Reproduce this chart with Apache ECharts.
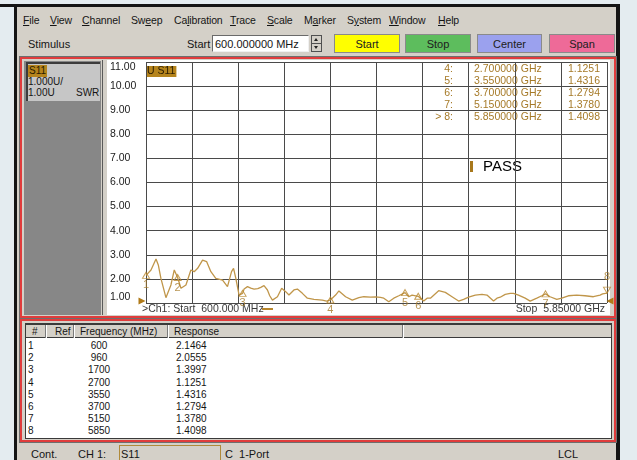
<!DOCTYPE html>
<html><head><meta charset="utf-8">
<script src="https://cdn.jsdelivr.net/npm/echarts@6/dist/echarts.min.js"></script>
<style>
*{box-sizing:border-box}
body{margin:0;width:637px;height:460px;overflow:hidden;background:#e4ecf0;font-family:'Liberation Sans',Arial,sans-serif;position:relative}
.a{position:absolute}
.t{position:absolute;font-size:11px;color:#151515;white-space:nowrap;line-height:12px}
.u{text-decoration:underline}
.btn{position:absolute;top:34px;height:19px;font-size:11px;line-height:19px;text-align:center;color:#202020;border:1px solid #8a8a8a}
.sep{position:absolute;top:325px;width:2px;height:13px;border-left:1px solid #7a7a7a;border-right:1px solid #fff}
</style></head><body>
<div class="a" style="left:0;top:4px;width:620px;height:3px;background:#141414"></div>
<div class="a" style="left:14px;top:4px;width:3px;height:456px;background:#141414"></div>
<div class="a" style="left:616px;top:4px;width:4px;height:456px;background:#141414"></div>
<div class="a" style="left:17px;top:7px;width:599px;height:453px;background:#d4d0c8"></div>

<div id="menu"></div>

<div class="t" style="left:28px;top:38px">Stimulus</div>
<div class="t" style="left:187px;top:38px">Start</div>
<div class="a" style="left:212px;top:35px;width:97px;height:17px;background:#fff;border:1px solid;border-color:#6a6a6a #f0f0f0 #f0f0f0 #6a6a6a"></div>
<div class="t" id="startBox" style="left:215px;top:38px"></div>
<div class="a" style="left:311px;top:35px;width:11px;height:17px;background:#d4d0c8;border:1px solid #505050"></div>
<div class="a" style="left:312px;top:43px;width:9px;height:1px;background:#505050"></div>
<div class="a" style="left:314px;top:38px;width:0;height:0;border-left:2.5px solid transparent;border-right:2.5px solid transparent;border-bottom:3px solid #222"></div>
<div class="a" style="left:314px;top:46px;width:0;height:0;border-left:2.5px solid transparent;border-right:2.5px solid transparent;border-top:3px solid #222"></div>
<div class="btn" style="left:334px;width:66px;background:#ffff00">Start</div>
<div class="btn" style="left:405px;width:66px;background:#5dbd5d">Stop</div>
<div class="btn" style="left:477px;width:65px;background:#9ba1ee">Center</div>
<div class="btn" style="left:549px;width:66px;background:#ee6a98">Span</div>

<!-- chart panel -->
<div class="a" style="left:19px;top:56px;width:598px;height:263px;border:1px solid #6e6e6e"></div>
<div class="a" style="left:20px;top:57px;width:596px;height:261px;border:2px solid #e03c3c"></div>
<div class="a" style="left:24px;top:61px;width:77px;height:254px;background:#878787"></div>
<div class="a" style="left:26px;top:62px;width:74px;height:39px;background:#c6c6c6;border-left:2px solid #3c3c3c;border-top:2px solid #3c3c3c"></div>
<div class="t" style="left:28px;top:65px;font-size:10px;background:#b5841c;color:#2a1c00;padding:0 1px">S11</div>
<div class="t" style="left:28px;top:76px;font-size:10px">1.000U/</div>
<div class="t" style="left:28px;top:87px;font-size:10px">1.00U</div>
<div class="t" style="left:76px;top:87px;font-size:10px">SWR</div>
<div class="a" style="left:101px;top:60px;width:6px;height:255px;background:#d4d0c8"></div>
<div class="a" style="left:102px;top:60px;width:1px;height:255px;background:#5a5a5a"></div>
<div class="a" style="left:107px;top:60px;width:503px;height:255px;background:#fff"></div>
<div id="chart" class="a" style="left:107px;top:60px;width:507px;height:256px"></div>

<!-- table panel -->
<div class="a" style="left:19px;top:318px;width:598px;height:125px;border:1px solid #6e6e6e"></div>
<div class="a" style="left:20px;top:319px;width:596px;height:123px;border:2px solid #e03c3c"></div>
<div class="a" style="left:25px;top:323px;width:587px;height:116px;background:#fff;border:1px solid #3a3a3a"></div>
<div class="a" style="left:26px;top:324px;width:585px;height:14px;background:#d4d0c8;border-bottom:1px solid #3a3a3a;border-top:1px solid #3a3a3a"></div>
<div id="table"></div>

<!-- status bar -->
<div class="t" style="left:31px;top:448px">Cont.</div>
<div class="t" style="left:78px;top:448px">CH 1:</div>
<div class="a" style="left:119px;top:445px;width:102px;height:16px;border:1px solid #b08a3a"></div>
<div class="t" style="left:121px;top:448px">S11</div>
<div class="t" style="left:225px;top:448px">C&nbsp; 1-Port</div>
<div class="t" style="left:558px;top:448px">LCL</div>

<script>
// ---------- data ----------
const menuItems = ['File','View','Channel','Sweep','Calibration','Trace','Scale','Marker','System','Window','Help'];
const menuUnderline = [0,0,0,2,2,0,0,1,1,0,0];
const menuX = [23,50,82,131,174,230,267,304,347,389,438];

const startMHz = 600;
const stopMHz = 5850;
const refValue = 1;
const scalePerDiv = 1;
const divisions = 10;

const freqMHz = [600,657,714,740,770,827,884,922,960,998,1055,1111,1149,1188,1244,1260,1290,1339,1395,1472,1528,1574,1597,1623,1660,1700,
 1717,1756,1793,1831,1873,1907,1944,1983,2009,2040,2097,2145,2191,2228,2285,2324,2381,2438,2513,2608,2657,2700,
 2759,2797,2873,2949,3024,3081,3157,3214,3270,3308,3365,3422,3479,3550,3592,3630,3700,3763,3801,3839,3933,4009,4085,
 4160,4217,4274,4350,4426,4483,4558,4597,4634,4691,4748,4785,4842,4918,4975,5051,5108,5150,5202,5278,5335,5410,
 5505,5600,5695,5771,5800,5850];
const swr = [2.1464,2.37,2.83,2.58,2.02,1.22,1.75,2.37,2.0555,1.61,1.75,2.37,2.30,2.44,2.78,2.82,2.72,2.30,2.02,1.95,1.68,2.30,2.44,2.02,1.33,1.3997,
 1.58,1.68,1.62,1.58,1.60,1.65,1.72,1.54,1.30,1.12,1.26,1.61,1.47,1.33,1.54,1.58,1.40,1.20,1.15,1.12,1.08,1.1251,
 1.33,1.50,1.26,1.12,1.22,1.26,1.24,1.25,1.23,1.20,1.05,1.20,1.30,1.4316,1.26,1.33,1.2794,1.08,1.20,1.20,1.51,1.44,1.26,
 1.08,1.15,1.24,1.33,1.36,1.33,1.08,1.20,1.24,1.36,1.40,1.40,1.33,1.20,1.08,1.20,1.30,1.3780,1.26,1.15,1.20,1.30,
 1.33,1.30,1.26,1.33,1.38,1.4098];

const markerNo = [1,2,3,4,5,6,7,8];
const markerFreqMHz = [600,960,1700,2700,3550,3700,5150,5850];
const markerResp = [2.1464,2.0555,1.3997,1.1251,1.4316,1.2794,1.3780,1.4098];
const activeMarker = 8;
const readoutFirst = 4;

const tableHeaders = ['#','Ref','Frequency (MHz)','Response'];

// ---------- chrome ----------
const menu = document.getElementById('menu');
menuItems.forEach((m,i)=>{
  const d = document.createElement('div');
  d.className='t';
  d.style.left = menuX[i]+'px'; d.style.top='14px'; d.style.fontSize='10.5px'; d.style.letterSpacing='-0.15px';
  const k = menuUnderline[i];
  d.innerHTML = m.slice(0,k)+'<span class="u">'+m[k]+'</span>'+m.slice(k+1);
  menu.appendChild(d);
});
document.getElementById('startBox').textContent = startMHz.toFixed(6)+' MHz';

const tb = document.getElementById('table');
let html = '';
[45,73,167,402].forEach(x=>{ html += '<div class="sep" style="left:'+x+'px"></div>'; });
const hx = [32,55,80,174];
tableHeaders.forEach((h,i)=>{ html += '<div class="t" style="left:'+hx[i]+'px;top:326px;font-size:10px">'+h+'</div>'; });
markerNo.forEach((n,i)=>{
  const y = 340 + i*12.2;
  html += '<div class="t" style="left:28px;top:'+y+'px;font-size:10px">'+n+'</div>';
  html += '<div class="t" style="left:69px;width:60px;text-align:center;top:'+y+'px;font-size:10px">'+markerFreqMHz[i]+'</div>';
  html += '<div class="t" style="left:176px;top:'+y+'px;font-size:10px">'+markerResp[i].toFixed(4)+'</div>';
});
tb.innerHTML = html;

// ---------- chart ----------
const gold = '#b8872e';
const textGold = '#a67a28';
const chart = echarts.init(document.getElementById('chart'), null, {renderer:'canvas'});
const FONT = 'Liberation Sans';

const graphics = [];
graphics.push({type:'text', left:39, top:6, style:{text:'U S11', font:'10.5px '+FONT, fill:'#2a1c00', backgroundColor:'#b5841c', padding:[0,1,0,1]}});
for (let i = readoutFirst-1; i < markerNo.length; i++) {
  const y = 9 + (i-(readoutFirst-1))*12.1;
  const lab = (markerNo[i]===activeMarker ? '> ' : '') + markerNo[i] + ':';
  graphics.push({type:'text', x:346, y:y, style:{text:lab, font:'10.5px '+FONT, fill:textGold, align:'right', verticalAlign:'middle'}});
  graphics.push({type:'text', x:367, y:y, style:{text:(markerFreqMHz[i]/1000).toFixed(6)+' GHz', font:'10.5px '+FONT, fill:textGold, verticalAlign:'middle'}});
  graphics.push({type:'text', x:493, y:y, style:{text:markerResp[i].toFixed(4), font:'10.5px '+FONT, fill:textGold, align:'right', verticalAlign:'middle'}});
}
graphics.push({type:'rect', shape:{x:363, y:101, width:3, height:11}, style:{fill:'#a8781c'}});
graphics.push({type:'text', x:376, y:107, style:{text:'PASS', font:'15px '+FONT, fill:'#000', verticalAlign:'middle'}});
graphics.push({type:'text', x:35, y:249, style:{text:'>Ch1: Start  '+startMHz.toFixed(3)+' MHz', font:'10.5px '+FONT, fill:'#3a3a3a', verticalAlign:'middle'}});
graphics.push({type:'line', shape:{x1:155, y1:249, x2:166, y2:249}, style:{stroke:gold, lineWidth:2}});
graphics.push({type:'text', x:498, y:249, style:{text:'Stop  '+(stopMHz/1000).toFixed(5)+' GHz', font:'10.5px '+FONT, fill:'#3a3a3a', align:'right', verticalAlign:'middle'}});

const markerData = markerNo.map((n,i)=>{
  const active = n===activeMarker;
  return {
    value:[markerFreqMHz[i], markerResp[i]],
    symbolRotate: active ? 180 : 0,
    symbolOffset: active ? [0,-3] : [0,0],
    label:{position: active ? 'top' : 'bottom', distance: active ? 4 : 1}
  };
});

chart.setOption({
  animation:false,
  grid:{left:38, top:2, right:7, bottom:13},
  xAxis:[
    {type:'value', min:startMHz, max:stopMHz, show:false},
    {type:'value', min:0, max:divisions, interval:1, position:'bottom',
     axisLine:{show:false}, axisTick:{show:false}, axisLabel:{show:false},
     splitLine:{show:true, lineStyle:{color:'#4a4a4a', width:1}}}
  ],
  yAxis:{type:'value', min:refValue, max:refValue+scalePerDiv*divisions, interval:scalePerDiv,
    axisLine:{show:false}, axisTick:{show:false},
    splitLine:{show:true, lineStyle:{color:'#4a4a4a', width:1}},
    axisLabel:{margin:36, align:'left', color:'#1a1a1a', fontSize:10.5, fontFamily:FONT,
      formatter:v=>v.toFixed(2), verticalAlignMaxLabel:'top', verticalAlignMinLabel:'bottom'}},
  graphic: graphics,
  series:[
    {type:'line', xAxisIndex:0, data:freqMHz.map((f,i)=>[f, swr[i]]), showSymbol:false, silent:true,
     lineStyle:{color:'#c0964a', width:1.3}, z:3,
     markPoint:{silent:true, symbol:'triangle', symbolSize:[7,7], itemStyle:{color:'#b07a18'}, label:{show:false},
       data:[{coord:[startMHz, refValue], symbolRotate:-90, symbolOffset:[-4,-2]},
             {coord:[stopMHz, refValue], symbolRotate:90, symbolOffset:[3,-2]}]}},
    {type:'scatter', xAxisIndex:0, data:markerData, symbol:'triangle', symbolSize:[7,6], silent:true, z:4,
     itemStyle:{color:'rgba(255,255,255,0)', borderColor:gold, borderWidth:1},
     label:{show:true, formatter:p=>markerNo[p.dataIndex], color:textGold, fontSize:11, fontFamily:FONT}}
  ]
});
</script>
</body></html>
